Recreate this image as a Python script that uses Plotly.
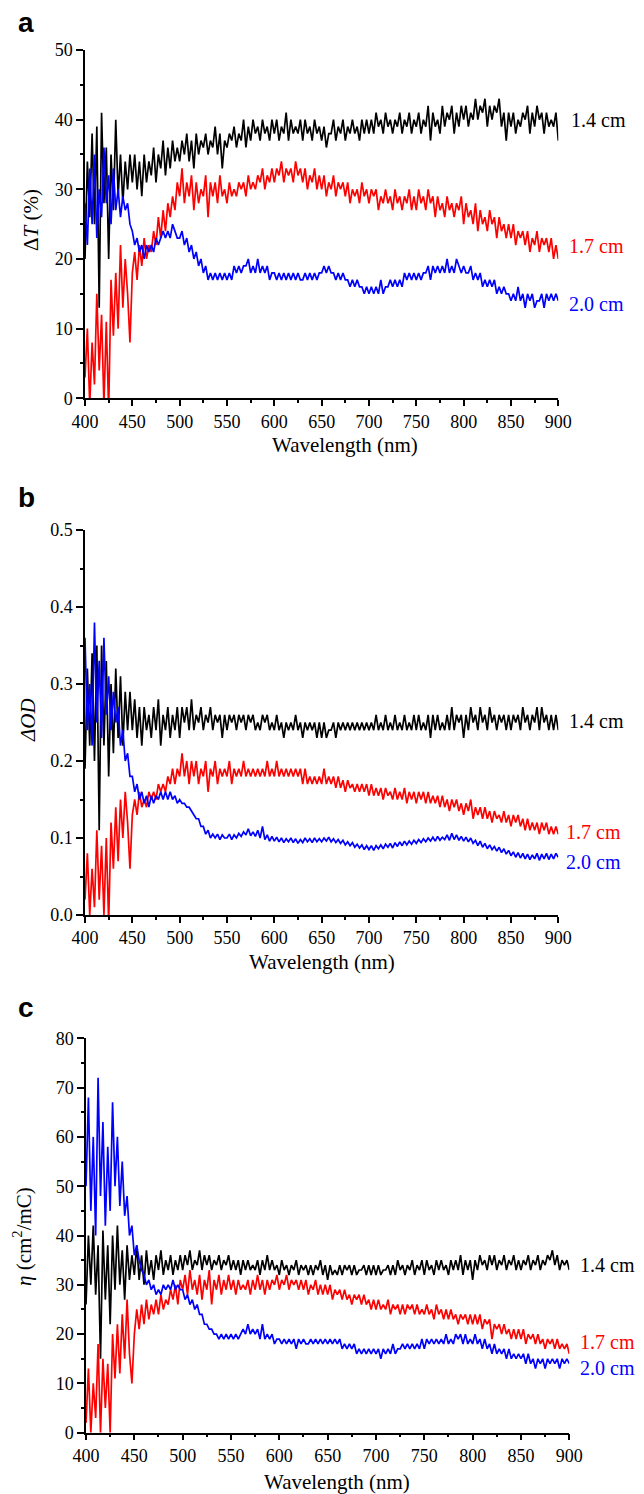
import plotly.graph_objects as go

# Browser window size; the page body adds an 8px margin at the top-left
WIN_W, WIN_H = 644, 1494
OFF = 8
W, H = WIN_W - OFF, WIN_H - OFF

# wavelength grid, 2.5 nm steps from 400 to 900 nm
wavelength = [400 + 2.5 * i for i in range(201)]

# ---------------- Panel a: Delta T (%) ----------------
dT_14 = [
    20, 34, 26, 38, 25, 39, 13, 41, 28, 36, 20, 35, 27, 40, 29, 35, 28, 34, 30, 35,
    31, 35, 30, 34, 29, 35, 31, 34, 32, 36, 31, 35, 33, 37, 32, 36, 33, 37, 34, 36,
    34, 37, 35, 38, 34, 37, 33, 38, 35, 37, 36, 38, 35, 37, 36, 39, 35, 38, 33, 37,
    36, 38, 37, 39, 36, 38, 37, 40, 36, 39, 37, 40, 38, 39, 37, 40, 38, 39, 37, 40,
    38, 40, 37, 39, 38, 41, 37, 40, 38, 39, 38, 40, 37, 40, 38, 39, 37, 40, 38, 39,
    37, 39, 36, 38, 38, 40, 37, 39, 38, 40, 37, 39, 38, 40, 38, 39, 37, 40, 38, 40,
    38, 40, 38, 41, 39, 40, 38, 41, 39, 40, 38, 40, 39, 41, 38, 40, 39, 41, 38, 40,
    39, 41, 38, 40, 39, 42, 37, 41, 39, 40, 38, 42, 39, 41, 40, 42, 38, 41, 39, 42,
    40, 42, 39, 41, 40, 43, 40, 42, 41, 43, 39, 42, 40, 42, 41, 43, 39, 41, 37, 41,
    39, 41, 38, 40, 39, 41, 40, 42, 38, 41, 39, 42, 40, 41, 38, 41, 39, 40, 39, 41,
    37]
dT_17 = [
    3, 10, -1, 8, 2, 15, 4, 12, -1, 11, -2, 17, 9, 18, 10, 22, 13, 20, 15, 8,
    18, 21, 17, 22, 19, 23, 20, 22, 21, 24, 22, 26, 23, 27, 24, 28, 26, 29, 27, 31,
    29, 33, 28, 31, 29, 32, 27, 31, 28, 30, 29, 32, 26, 31, 29, 31, 28, 32, 29, 30,
    28, 31, 29, 30, 29, 31, 30, 31, 29, 32, 30, 31, 30, 32, 31, 33, 30, 32, 31, 33,
    31, 33, 32, 34, 31, 33, 32, 33, 31, 34, 32, 33, 31, 33, 30, 32, 31, 33, 30, 32,
    30, 32, 29, 31, 30, 32, 29, 31, 30, 31, 29, 31, 28, 30, 29, 30, 28, 31, 29, 30,
    28, 30, 29, 30, 27, 29, 28, 30, 28, 29, 27, 30, 28, 29, 27, 29, 28, 30, 27, 29,
    27, 30, 28, 29, 27, 30, 28, 29, 26, 29, 27, 28, 26, 29, 27, 28, 26, 28, 27, 29,
    25, 28, 26, 27, 25, 28, 24, 27, 25, 26, 24, 27, 25, 26, 23, 26, 24, 25, 23, 25,
    23, 25, 22, 24, 23, 24, 22, 24, 21, 23, 22, 24, 21, 23, 22, 23, 21, 23, 20, 22,
    20]
dT_20 = [
    28, 22, 33, 25, 35, 23, 30, 26, 36, 28, 32, 25, 33, 27, 30, 26, 29, 27, 28, 25,
    24, 22, 23, 21, 22, 20, 22, 21, 22, 21, 23, 22, 23, 24, 23, 24, 23, 25, 24, 23,
    23, 24, 22, 23, 21, 22, 20, 21, 19, 20, 18, 19, 17, 18, 17, 18, 17, 18, 17, 18,
    17, 18, 17, 19, 18, 19, 18, 19, 19, 20, 18, 19, 18, 20, 18, 19, 18, 19, 17, 18,
    18, 17, 18, 17, 18, 17, 18, 17, 18, 17, 18, 17, 17, 18, 17, 18, 17, 18, 17, 18,
    18, 19, 18, 19, 18, 18, 17, 18, 17, 18, 17, 17, 16, 17, 16, 17, 16, 16, 15, 16,
    15, 16, 15, 16, 15, 17, 15, 16, 16, 17, 16, 17, 16, 17, 16, 18, 17, 18, 17, 18,
    17, 18, 17, 18, 18, 19, 17, 19, 18, 19, 18, 19, 18, 20, 18, 19, 18, 20, 19, 18,
    19, 18, 18, 19, 17, 18, 17, 18, 16, 17, 16, 17, 16, 17, 15, 16, 15, 16, 15, 15,
    14, 15, 14, 16, 14, 15, 13, 15, 14, 15, 13, 14, 14, 15, 13, 15, 14, 15, 14, 15,
    14]

# ---------------- Panel b: Delta OD ----------------
dOD_14 = [
    0.19, 0.32, 0.22, 0.34, 0.20, 0.35, 0.11, 0.35, 0.22, 0.33, 0.18, 0.30, 0.21, 0.32, 0.23, 0.31, 0.22, 0.29, 0.24, 0.29,
    0.24, 0.28, 0.23, 0.27, 0.22, 0.27, 0.24, 0.26, 0.23, 0.27, 0.24, 0.28, 0.22, 0.26, 0.24, 0.27, 0.23, 0.26, 0.24, 0.27,
    0.23, 0.27, 0.25, 0.27, 0.24, 0.28, 0.24, 0.26, 0.25, 0.27, 0.24, 0.26, 0.25, 0.27, 0.24, 0.26, 0.25, 0.26, 0.23, 0.26,
    0.24, 0.26, 0.25, 0.26, 0.24, 0.26, 0.25, 0.26, 0.24, 0.26, 0.25, 0.26, 0.24, 0.25, 0.24, 0.26, 0.25, 0.26, 0.24, 0.25,
    0.24, 0.26, 0.24, 0.25, 0.23, 0.25, 0.24, 0.25, 0.24, 0.26, 0.24, 0.25, 0.23, 0.25, 0.24, 0.25, 0.24, 0.25, 0.23, 0.25,
    0.23, 0.25, 0.23, 0.24, 0.24, 0.25, 0.23, 0.25, 0.24, 0.25, 0.24, 0.25, 0.24, 0.25, 0.24, 0.25, 0.24, 0.25, 0.24, 0.25,
    0.24, 0.25, 0.24, 0.26, 0.24, 0.25, 0.24, 0.26, 0.24, 0.25, 0.24, 0.26, 0.24, 0.25, 0.24, 0.26, 0.24, 0.25, 0.24, 0.26,
    0.24, 0.26, 0.24, 0.25, 0.24, 0.26, 0.23, 0.26, 0.24, 0.26, 0.24, 0.25, 0.24, 0.26, 0.24, 0.27, 0.24, 0.26, 0.25, 0.26,
    0.23, 0.26, 0.24, 0.27, 0.25, 0.26, 0.24, 0.27, 0.25, 0.26, 0.24, 0.27, 0.25, 0.26, 0.24, 0.26, 0.25, 0.26, 0.24, 0.26,
    0.24, 0.26, 0.25, 0.26, 0.24, 0.27, 0.25, 0.26, 0.24, 0.26, 0.25, 0.27, 0.24, 0.27, 0.25, 0.26, 0.24, 0.26, 0.24, 0.26,
    0.24]
dOD_17 = [
    0.02, 0.08, 0.0, 0.06, 0.01, 0.11, 0.02, 0.09, 0.0, 0.10, -0.01, 0.12, 0.06, 0.14, 0.07, 0.15, 0.10, 0.16, 0.12, 0.06,
    0.13, 0.15, 0.13, 0.16, 0.14, 0.15, 0.14, 0.16, 0.15, 0.16, 0.15, 0.17, 0.16, 0.17, 0.16, 0.18, 0.17, 0.19, 0.17, 0.19,
    0.18, 0.21, 0.18, 0.20, 0.17, 0.20, 0.18, 0.20, 0.17, 0.19, 0.18, 0.20, 0.16, 0.19, 0.18, 0.20, 0.17, 0.19, 0.18, 0.19,
    0.18, 0.20, 0.17, 0.19, 0.18, 0.19, 0.18, 0.20, 0.18, 0.19, 0.18, 0.19, 0.18, 0.19, 0.18, 0.19, 0.18, 0.20, 0.18, 0.19,
    0.18, 0.20, 0.18, 0.19, 0.18, 0.19, 0.18, 0.19, 0.18, 0.19, 0.18, 0.19, 0.17, 0.19, 0.17, 0.18, 0.17, 0.18, 0.17, 0.18,
    0.17, 0.19, 0.17, 0.18, 0.17, 0.18, 0.165, 0.18, 0.165, 0.175, 0.16, 0.175, 0.165, 0.17, 0.16, 0.17, 0.16, 0.17, 0.16, 0.17,
    0.155, 0.17, 0.155, 0.165, 0.155, 0.165, 0.15, 0.165, 0.155, 0.16, 0.15, 0.165, 0.15, 0.16, 0.15, 0.165, 0.145, 0.16, 0.15, 0.16,
    0.145, 0.16, 0.15, 0.16, 0.145, 0.16, 0.145, 0.155, 0.145, 0.155, 0.14, 0.155, 0.14, 0.15, 0.135, 0.15, 0.14, 0.15, 0.135, 0.145,
    0.13, 0.145, 0.135, 0.15, 0.125, 0.14, 0.13, 0.14, 0.125, 0.14, 0.125, 0.135, 0.12, 0.135, 0.125, 0.13, 0.12, 0.135, 0.12, 0.13,
    0.115, 0.13, 0.12, 0.13, 0.115, 0.125, 0.11, 0.125, 0.11, 0.12, 0.11, 0.12, 0.105, 0.12, 0.11, 0.12, 0.105, 0.115, 0.105, 0.115,
    0.105]
dOD_20 = [
    0.36, 0.24, 0.30, 0.22, 0.38, 0.25, 0.33, 0.23, 0.36, 0.26, 0.31, 0.24, 0.29, 0.25, 0.27, 0.22, 0.24, 0.20, 0.21, 0.18,
    0.18, 0.16, 0.17, 0.15, 0.16, 0.145, 0.155, 0.14, 0.155, 0.145, 0.155, 0.15, 0.16, 0.15, 0.16, 0.15, 0.16, 0.15, 0.155, 0.145,
    0.15, 0.145, 0.145, 0.14, 0.14, 0.135, 0.13, 0.125, 0.125, 0.115, 0.115, 0.105, 0.11, 0.10, 0.105, 0.10, 0.105, 0.098, 0.104, 0.10,
    0.10, 0.105, 0.098, 0.104, 0.10, 0.106, 0.102, 0.108, 0.104, 0.112, 0.103, 0.108, 0.102, 0.11, 0.10, 0.115, 0.098, 0.104, 0.096, 0.102,
    0.096, 0.101, 0.095, 0.10, 0.094, 0.099, 0.095, 0.10, 0.094, 0.099, 0.093, 0.098, 0.094, 0.10, 0.095, 0.099, 0.094, 0.10, 0.095, 0.099,
    0.095, 0.10, 0.096, 0.101, 0.095, 0.099, 0.094, 0.098, 0.093, 0.097, 0.091, 0.095, 0.09, 0.094, 0.088, 0.092, 0.087, 0.091, 0.085, 0.09,
    0.085, 0.09, 0.084, 0.09, 0.086, 0.091, 0.086, 0.092, 0.088, 0.093, 0.087, 0.094, 0.089, 0.095, 0.09, 0.096, 0.091, 0.096, 0.092, 0.097,
    0.093, 0.098, 0.094, 0.099, 0.095, 0.10, 0.096, 0.101, 0.096, 0.102, 0.097, 0.101, 0.098, 0.104, 0.097, 0.106, 0.098, 0.104, 0.097, 0.102,
    0.096, 0.101, 0.095, 0.10, 0.093, 0.097, 0.09, 0.096, 0.088, 0.093, 0.086, 0.091, 0.085, 0.089, 0.083, 0.088, 0.081, 0.086, 0.079, 0.084,
    0.077, 0.082, 0.075, 0.081, 0.074, 0.08, 0.073, 0.079, 0.072, 0.078, 0.073, 0.08, 0.071, 0.079, 0.073, 0.08, 0.072, 0.079, 0.073, 0.08,
    0.075]

# ---------------- Panel c: eta (cm^2/mC) ----------------
eta_14 = [
    26, 40, 30, 42, 28, 38, 15, 41, 27, 38, 22, 40, 29, 42, 30, 37, 27, 38, 31, 36,
    32, 38, 31, 36, 30, 37, 32, 35, 31, 36, 33, 37, 32, 35, 33, 36, 32, 35, 33, 36,
    33, 36, 34, 37, 33, 35, 34, 37, 33, 36, 34, 36, 33, 35, 34, 36, 33, 35, 34, 36,
    33, 35, 33, 35, 32, 35, 33, 35, 33, 34, 33, 35, 32, 35, 33, 36, 33, 35, 33, 34,
    32, 35, 33, 34, 32, 34, 33, 35, 32, 34, 33, 34, 32, 34, 32, 34, 33, 35, 32, 34,
    31, 34, 32, 33, 32, 34, 32, 34, 33, 34, 32, 34, 32, 33, 33, 34, 32, 34, 32, 34,
    32, 34, 32, 33, 33, 34, 32, 34, 32, 35, 33, 34, 32, 34, 33, 35, 32, 34, 33, 35,
    32, 35, 33, 34, 32, 35, 33, 35, 33, 34, 32, 35, 33, 35, 33, 36, 32, 35, 33, 35,
    31, 35, 33, 36, 34, 35, 33, 36, 34, 36, 33, 35, 34, 36, 33, 35, 34, 36, 33, 35,
    33, 35, 34, 36, 33, 35, 34, 36, 33, 35, 34, 36, 35, 37, 34, 36, 33, 35, 34, 35,
    33]
eta_17 = [
    2, 13, 0, 10, 3, 18, 0, 15, 5, 14, 0, 20, 11, 22, 12, 24, 15, 27, 16, 10,
    20, 25, 21, 26, 22, 27, 23, 26, 24, 27, 24, 28, 25, 27, 26, 29, 27, 30, 26, 31,
    29, 32, 28, 33, 29, 31, 28, 32, 27, 31, 29, 33, 26, 31, 29, 32, 28, 31, 29, 32,
    29, 31, 28, 31, 29, 30, 29, 31, 28, 31, 29, 32, 29, 31, 28, 31, 29, 31, 30, 32,
    29, 31, 30, 32, 29, 31, 30, 31, 29, 31, 29, 31, 28, 30, 29, 31, 28, 30, 28, 30,
    28, 30, 27, 29, 28, 29, 27, 29, 27, 28, 26, 28, 27, 28, 26, 28, 26, 27, 25, 27,
    25, 27, 25, 26, 25, 27, 24, 26, 25, 26, 24, 26, 24, 26, 25, 26, 24, 26, 24, 25,
    24, 26, 24, 25, 23, 26, 24, 25, 23, 25, 23, 25, 23, 24, 22, 24, 23, 24, 22, 24,
    22, 24, 22, 24, 21, 23, 22, 23, 19, 22, 21, 22, 20, 22, 20, 21, 19, 21, 19, 21,
    19, 21, 18, 20, 19, 20, 18, 20, 18, 19, 17, 19, 18, 19, 17, 19, 17, 18, 17, 18,
    16]
eta_20 = [
    50, 68, 45, 60, 40, 72, 48, 63, 42, 58, 45, 67, 50, 60, 46, 55, 44, 48, 40, 42,
    36, 38, 35, 33, 32, 30, 31, 29, 30, 28, 29, 28, 30, 29, 30, 29, 31, 29, 30, 29,
    29, 27, 28, 26, 27, 25, 26, 24, 24, 22, 22, 21, 21, 20, 20, 19, 20, 19, 20, 19,
    20, 19, 20, 19, 20, 21, 20, 22, 20, 21, 20, 21, 19, 22, 19, 20, 19, 20, 18, 19,
    19, 18, 19, 18, 19, 18, 19, 17, 19, 18, 19, 18, 18, 19, 18, 19, 18, 19, 18, 19,
    18, 19, 18, 19, 18, 19, 17, 18, 17, 18, 17, 18, 16, 17, 16, 17, 16, 17, 16, 17,
    16, 17, 15, 17, 16, 17, 16, 18, 16, 17, 17, 18, 17, 18, 17, 18, 17, 18, 17, 19,
    17, 19, 18, 19, 18, 19, 18, 19, 18, 20, 18, 19, 18, 20, 19, 20, 18, 20, 18, 19,
    18, 20, 18, 19, 17, 19, 17, 18, 16, 18, 16, 17, 16, 17, 15, 17, 15, 16, 15, 16,
    15, 16, 14, 16, 14, 15, 13, 15, 14, 15, 13, 15, 14, 15, 14, 15, 13, 15, 14, 15,
    14]

series_labels = ["1.4 cm", "1.7 cm", "2.0 cm"]
colors = ["#000000", "#ff0000", "#0000ff"]

panels = [
    dict(ys=[dT_14, dT_17, dT_20], xref="x", yref="y"),
    dict(ys=[dOD_14, dOD_17, dOD_20], xref="x2", yref="y2"),
    dict(ys=[eta_14, eta_17, eta_20], xref="x3", yref="y3"),
]

fig = go.Figure()
for p in panels:
    for ys, name, col in zip(p["ys"], series_labels, colors):
        n = min(len(ys), len(wavelength))
        fig.add_trace(go.Scatter(
            x=wavelength[:n], y=ys[:n], mode="lines", name=name,
            line=dict(color=col, width=1.7),
            xaxis=p["xref"], yaxis=p["yref"], showlegend=False,
        ))


def px(x):
    return (x - OFF) / W


def py(y):
    return 1 - (y - OFF) / H


tickfont = dict(family="Liberation Serif", size=18, color="black")


def xaxis(x0, x1, anchor):
    return dict(
        domain=[px(x0), px(x1)], range=[400, 900], anchor=anchor,
        showline=True, linecolor="black", linewidth=1.5,
        ticks="outside", ticklen=6, tickwidth=1.5, tickcolor="black",
        tick0=400, dtick=50,
        minor=dict(ticks="outside", ticklen=3, dtick=25, tickwidth=1.5,
                   tickcolor="black", showgrid=False),
        showgrid=False, zeroline=False, tickfont=tickfont,
    )


def yaxis(top, bottom, rng, dtick, minor, anchor, fmt=None):
    d = dict(
        domain=[py(bottom), py(top)], range=rng, anchor=anchor,
        showline=True, linecolor="black", linewidth=1.5,
        ticks="outside", ticklen=7, tickwidth=1.5, tickcolor="black",
        tick0=0, dtick=dtick,
        minor=dict(ticks="outside", ticklen=3.5, dtick=minor, tickwidth=1.5,
                   tickcolor="black", showgrid=False),
        showgrid=False, zeroline=False, tickfont=tickfont,
    )
    if fmt:
        d["tickformat"] = fmt
    return d


fig.update_layout(
    width=W, height=H,
    margin=dict(l=0, r=0, t=0, b=0, autoexpand=False),
    paper_bgcolor="white", plot_bgcolor="white",
    xaxis=xaxis(85, 558.3, "y"),
    yaxis=yaxis(50, 398.3, [0, 50], 10, 5, "x"),
    xaxis2=xaxis(85, 558.3, "y2"),
    yaxis2=yaxis(530, 915, [0, 0.5], 0.1, 0.05, "x2", ".1f"),
    xaxis3=xaxis(86, 569.3, "y3"),
    yaxis3=yaxis(1038.3, 1432.7, [0, 80], 10, 5, "x3"),
)

ann = []
serif = "Liberation Serif"


def add_text(text, x, y, size, color="black", family=serif, xanchor="center",
             angle=0):
    ann.append(dict(text=text, x=px(x), y=py(y), xref="paper", yref="paper",
                    showarrow=False, xanchor=xanchor, yanchor="middle",
                    textangle=angle,
                    font=dict(family=family, size=size, color=color)))


# panel letters
for letter, y in [("a", 22), ("b", 498), ("c", 1008)]:
    add_text("<b>" + letter + "</b>", 26, y, 28, family="Liberation Sans")

# x-axis titles
add_text("Wavelength (nm)", 345, 445, 21)
add_text("Wavelength (nm)", 322, 962, 21)
add_text("Wavelength (nm)", 337, 1482, 21)

# y-axis titles
add_text("Δ<i>T</i> (%)", 31, 220, 21, angle=-90)
add_text("<i>ΔOD</i>", 28, 720, 21, angle=-90)
add_text("<i>η</i> (cm<sup>2</sup>/mC)", 22, 1237, 21, angle=-90)

# series labels
label_pos = [
    [(569, 120), (567, 246), (567, 304)],
    [(567, 721), (564, 832), (564, 862)],
    [(578, 1265), (578, 1342), (578, 1368)],
]
for pos in label_pos:
    for (lx, ly), name, col in zip(pos, series_labels, colors):
        add_text(name, lx, ly, 20, color=col, xanchor="left")

fig.update_layout(annotations=ann)

fig.write_html("out.html")
